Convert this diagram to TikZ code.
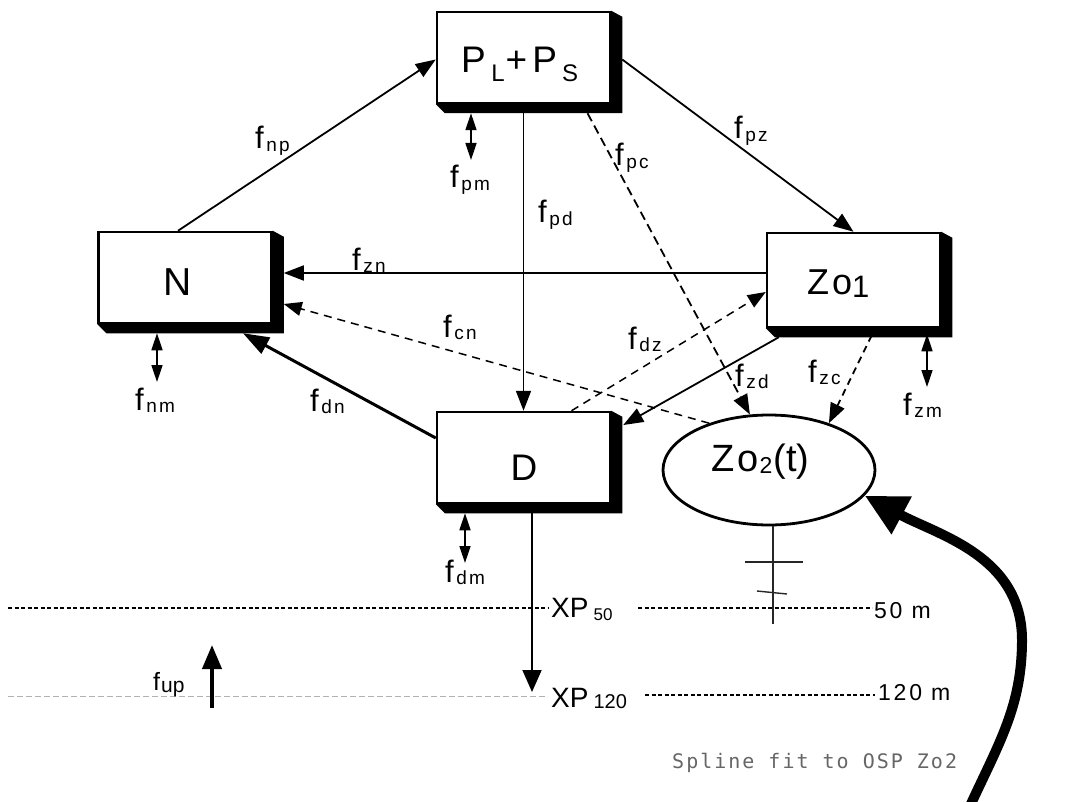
\documentclass[tikz,border=0pt]{standalone}
\usepackage{fontspec}
\setmainfont{Liberation Sans}
\newfontfamily\subfont[LetterSpace=12]{Liberation Sans}
\newfontfamily\splfont[LetterSpace=10]{DejaVu Sans Mono}
\usetikzlibrary{arrows.meta,shapes.geometric,backgrounds}
\newcommand\flab[1]{{\fontsize{31}{31}\selectfont f}\kern2.5pt\raisebox{-2.5pt}{\subfont\fontsize{19}{19}\selectfont #1}}
\newcommand\flabup{{\fontsize{25}{25}\selectfont f}\kern1pt\raisebox{-2pt}{\fontsize{21}{21}\selectfont up}}
\tikzset{
  box/.style={draw, line width=2.5pt, fill=white, rectangle, minimum width=173pt, minimum height=91pt, inner sep=0pt},
  conn/.style={line width=1.8pt, -{Triangle[length=20pt,width=15pt]}},
  dconn/.style={conn, dash pattern=on 9pt off 5pt},
  dconnthin/.style={line width=1.5pt, -{Triangle[length=18pt,width=14pt]}, dash pattern=on 8pt off 6pt},
  dbl/.style={line width=1.6pt, {Triangle[length=17pt,width=11pt]}-{Triangle[length=17pt,width=11pt]}},
  lab/.style={anchor=base west, inner sep=0pt},
  boxtext/.style={anchor=base, inner sep=0pt},
  depth/.style={line width=1.3pt, dash pattern=on 4pt off 2.5pt},
  depthgray/.style={line width=1pt, black!30, dash pattern=on 6pt off 3pt}
}
\begin{document}
\begin{tikzpicture}[x=1pt,y=1pt]
\useasboundingbox (0,0) rectangle (1078,-802);

% depth lines
\draw[depth] (8,-608) -- (548,-608);
\draw[depth] (638,-608) -- (872,-608);
\draw[depthgray] (8,-696) -- (548,-696);
\draw[depth] (645,-695) -- (875,-695);

% compartments
\node[box] (P) at (523.5,-57.5) {};
\node[box] (N) at (185,-277.5) {};
\node[box, minimum height=94pt] (Zo1) at (853.5,-280) {};
\node[box] (D) at (523.5,-457.5) {};
\node[ellipse, draw, line width=2.8pt, fill=white, minimum width=212pt, minimum height=110pt, inner sep=0pt] (Zo2) at (769,-470) {};

% compartment texts
\node[boxtext, font=\fontsize{39}{39}\selectfont] (Ntxt) at (178,-295) {N};
\node[boxtext, font=\fontsize{37}{37}\selectfont] (Dtxt) at (524,-480) {D};
\node[lab, font=\fontsize{37}{37}\selectfont] (Ptxt) at (461,-73)
  {P\kern5.5pt\raisebox{-9pt}{\fontsize{24}{24}\selectfont L}\kern1pt+\kern5pt P\kern5pt\raisebox{-9pt}{\fontsize{24}{24}\selectfont S}};
\node[lab, font=\fontsize{36}{36}\selectfont] (Zo1txt) at (807,-294)
  {Z\kern3pt o\raisebox{-3pt}{\fontsize{31}{31}\selectfont 1}};
\node[lab, font=\fontsize{38}{38}\selectfont] (Zo2txt) at (711,-471)
  {Z\kern3pt o\kern1pt\raisebox{-2pt}{\fontsize{23}{23}\selectfont 2}\kern1pt(t)};

% flux connectors
\draw[conn] ([xshift=-7pt]N.north) -- ([yshift=-2pt]P.west);
\draw[conn] ([xshift=11pt,yshift=-2pt]P.east) -- (Zo1.north);
\draw[conn] ([yshift=-9pt]P.south) -- (D.north);
\draw[dconn] ([xshift=64pt,yshift=-9pt]P.south) -- (Zo2.109);
\draw[conn] ([yshift=7pt]Zo1.west) -- ([xshift=11pt,yshift=4.5pt]N.east);
\draw[dconnthin] (Zo2.142) -- ([xshift=11pt,yshift=-26.5pt]N.east);
\draw[line width=3pt, -{Triangle[length=26pt,width=18pt]}] ([yshift=19.5pt]D.west) -- ([xshift=58pt,yshift=-9pt]N.south);
\draw[dconnthin] ([xshift=48pt]D.north) -- ([yshift=-12pt]Zo1.west);
\draw[conn] ([xshift=13pt,yshift=-9pt]Zo1.south west) -- ([xshift=12pt,yshift=32.5pt]D.east);
\draw[dconn, dash pattern=on 7pt off 5pt] ([xshift=106pt,yshift=-7pt]Zo1.south west) -- (Zo2.38);

% mortality double arrows
\coordinate (pmend) at (471,-160);
\coordinate (nmend) at (157,-382);
\coordinate (zmend) at (927,-387);
\coordinate (dmend) at (465,-563);
\draw[dbl] ([xshift=-52.5pt,yshift=-9pt]P.south) -- (pmend);
\draw[dbl] ([xshift=-28pt,yshift=-9pt]N.south) -- (nmend);
\draw[dbl] ([xshift=73.5pt,yshift=-6pt]Zo1.south) -- (zmend);
\draw[dbl] ([xshift=-58.5pt,yshift=-9pt]D.south) -- (dmend);

% export and upwelling
\coordinate (xpend) at (532,-692);
\draw[line width=1.8pt, -{Triangle[length=22pt,width=19pt]}] ([xshift=8.5pt,yshift=-9pt]D.south) -- (xpend);
\coordinate (upbot) at (212,-708);
\coordinate (uptop) at (212,-645);
\draw[line width=4pt, -{Triangle[length=24pt,width=19pt]}] (upbot) -- (uptop);

% Zo2 stem
\coordinate (stembot) at (773,-624);
\draw[line width=1.6pt, black!85] ([xshift=4pt]Zo2.south) -- (stembot);
\draw[line width=1.6pt, black!85] (745,-562) -- (803,-562);
\draw[line width=1.4pt, black!85] (757,-591) -- (787,-594);

% spline forcing
\coordinate (splstart) at (970,-806);
\draw[line width=10pt, -{Triangle[length=42pt,width=40pt]}] (splstart)
  .. controls (999,-743) and (1022,-706) .. (1022,-640)
  .. controls (1022,-556) and (938,-535) .. (Zo2.-15);

% flux labels
\node[lab] (lnp) at (255,-149) {\flab{np}};
\node[lab] (lpz) at (734,-139) {\flab{pz}};
\node[lab] (lpm) at (450,-188) {\flab{pm}};
\node[lab] (lpd) at (538,-223) {\flab{pd}};
\node[lab] (lpc) at (615,-166) {\flab{pc}};
\node[lab] (lzn) at (352,-270) {\flab{zn}};
\node[lab] (lcn) at (443,-337) {\flab{cn}};
\node[lab] (ldn) at (310,-411) {\flab{dn}};
\node[lab] (ldz) at (628,-349) {\flab{dz}};
\node[lab] (lnm) at (135,-410) {\flab{nm}};
\node[lab] (lzd) at (735,-386) {\flab{zd}};
\node[lab] (lzc) at (808,-382) {\flab{zc}};
\node[lab] (lzm) at (903,-415) {\flab{zm}};
\node[lab] (ldm) at (445,-582) {\flab{dm}};
\node[lab] (lup) at (153,-690) {\flabup};

% depth labels
\node[lab, font=\fontsize{28}{28}\selectfont] (xp50) at (551,-617) {XP\kern5pt\raisebox{-3pt}{\fontsize{17}{17}\selectfont 50}};
\node[lab, font=\fontsize{28}{28}\selectfont] (xp120) at (551,-707) {XP\kern5pt\raisebox{-1pt}{\fontsize{20}{20}\selectfont 120}};
\node[lab, font={\subfont\fontsize{23}{23}\selectfont}] (m50) at (874,-618) {50 m};
\node[lab, font={\subfont\fontsize{23}{23}\selectfont}] (m120) at (878,-700) {120 m};
\node[lab, text=black!60, font={\splfont\fontsize{20}{20}\selectfont}] (spl) at (672,-768) {Spline fit to OSP Zo2};

\begin{scope}[on background layer]
  \fill[white] (0,0) rectangle (1078,-802);
  \foreach \n in {P,N,Zo1,D} {
    \fill (\n.north east) -- ([shift={(11pt,-6pt)}]\n.north east) -- ([shift={(11pt,-9pt)}]\n.south east)
      -- ([shift={(9pt,-9pt)}]\n.south west) -- (\n.south west) -- cycle;
  }
\end{scope}
\end{tikzpicture}
\end{document}
